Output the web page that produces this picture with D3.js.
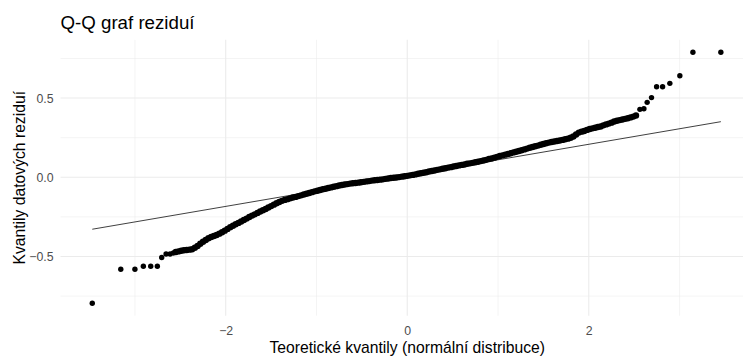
<!DOCTYPE html>
<html>
<head>
<meta charset="utf-8">
<script src="https://cdn.jsdelivr.net/npm/d3@7"></script>
<style>
  body { margin: 0; background: #fff; }
  svg { display: block; font-family: "Liberation Sans", Arial, sans-serif; }
</style>
</head>
<body>
<div id="chart"></div>
<script>
// theoretical quantile, sample quantile
const tailLow = [
  [-3.47, -0.795], [-3.156, -0.581], [-3.0, -0.581], [-2.907, -0.562],
  [-2.826, -0.562], [-2.753, -0.562], [-2.705, -0.507], [-2.657, -0.484],
  [-2.613, -0.484], [-2.577, -0.478]
];

const body = [
  [-2.55, -0.472], [-2.52, -0.468], [-2.49, -0.464], [-2.46, -0.461], [-2.43, -0.459],
  [-2.40, -0.457], [-2.37, -0.454], [-2.34, -0.445], [-2.31, -0.434], [-2.28, -0.420],
  [-2.25, -0.407], [-2.22, -0.396], [-2.19, -0.385], [-2.16, -0.377], [-2.13, -0.371],
  [-2.10, -0.364], [-2.07, -0.356], [-2.04, -0.347], [-2.01, -0.337], [-1.98, -0.326],
  [-1.95, -0.315], [-1.92, -0.306], [-1.89, -0.297], [-1.86, -0.288], [-1.83, -0.279],
  [-1.80, -0.270], [-1.77, -0.261], [-1.74, -0.251], [-1.71, -0.242], [-1.68, -0.234],
  [-1.65, -0.225], [-1.62, -0.216], [-1.59, -0.208], [-1.56, -0.200], [-1.53, -0.191],
  [-1.50, -0.182], [-1.47, -0.173], [-1.44, -0.164], [-1.41, -0.156], [-1.38, -0.149],
  [-1.35, -0.143], [-1.32, -0.138], [-1.29, -0.133], [-1.26, -0.128], [-1.23, -0.124],
  [-1.20, -0.119], [-1.17, -0.114], [-1.14, -0.109], [-1.11, -0.104], [-1.08, -0.099],
  [-1.05, -0.094], [-1.02, -0.089], [-0.99, -0.085], [-0.96, -0.080], [-0.93, -0.076],
  [-0.90, -0.072], [-0.87, -0.068], [-0.84, -0.064], [-0.81, -0.060], [-0.78, -0.056],
  [-0.75, -0.052], [-0.72, -0.049], [-0.69, -0.046], [-0.66, -0.043], [-0.63, -0.040],
  [-0.60, -0.038], [-0.57, -0.036], [-0.54, -0.034], [-0.51, -0.031], [-0.48, -0.029],
  [-0.45, -0.026], [-0.42, -0.024], [-0.39, -0.021], [-0.36, -0.019], [-0.33, -0.017],
  [-0.30, -0.015], [-0.27, -0.013], [-0.24, -0.010], [-0.21, -0.008], [-0.18, -0.005],
  [-0.15, -0.003], [-0.12, -0.001], [-0.09, 0.001], [-0.06, 0.004], [-0.03, 0.006],
  [0.00, 0.009], [0.03, 0.012], [0.06, 0.015], [0.09, 0.018], [0.12, 0.022],
  [0.15, 0.025], [0.18, 0.029], [0.21, 0.032], [0.24, 0.036], [0.27, 0.040],
  [0.30, 0.043], [0.33, 0.047], [0.36, 0.050], [0.39, 0.054], [0.42, 0.057],
  [0.45, 0.061], [0.48, 0.064], [0.51, 0.068], [0.54, 0.071], [0.57, 0.075],
  [0.60, 0.078], [0.63, 0.081], [0.66, 0.085], [0.69, 0.088], [0.72, 0.091],
  [0.75, 0.095], [0.78, 0.098], [0.81, 0.102], [0.84, 0.106], [0.87, 0.110],
  [0.90, 0.115], [0.93, 0.119], [0.96, 0.124], [0.99, 0.129], [1.02, 0.134],
  [1.05, 0.138], [1.08, 0.143], [1.11, 0.147], [1.14, 0.152], [1.17, 0.157],
  [1.20, 0.161], [1.23, 0.166], [1.26, 0.171], [1.29, 0.176], [1.32, 0.181],
  [1.35, 0.186], [1.38, 0.191], [1.41, 0.196], [1.44, 0.200], [1.47, 0.205],
  [1.50, 0.210], [1.53, 0.215], [1.56, 0.219], [1.59, 0.223], [1.62, 0.226],
  [1.65, 0.229], [1.68, 0.232], [1.71, 0.236], [1.74, 0.240], [1.77, 0.244],
  [1.80, 0.250], [1.83, 0.257], [1.86, 0.270], [1.89, 0.282], [1.92, 0.288],
  [1.95, 0.292], [1.98, 0.299], [2.01, 0.305], [2.04, 0.309], [2.07, 0.313],
  [2.10, 0.317], [2.13, 0.321], [2.16, 0.328], [2.19, 0.334], [2.22, 0.339],
  [2.25, 0.345], [2.28, 0.352], [2.31, 0.357], [2.34, 0.361], [2.37, 0.365],
  [2.40, 0.369], [2.43, 0.373], [2.46, 0.378], [2.49, 0.383], [2.52, 0.390]
];

const tailHigh = [
  [2.563, 0.429], [2.607, 0.433], [2.643, 0.473], [2.691, 0.503], [2.747, 0.572],
  [2.813, 0.572], [2.893, 0.593], [3.003, 0.641], [3.147, 0.789], [3.455, 0.789]
];

// reference line (through the quartiles), drawn over the data range
const qqLine = [[-3.47, -0.328], [3.455, 0.351]];

const xTicks = [-2, 0, 2];
const xMinor = [-3, -1, 1, 3];
const yTicks = [-0.5, 0, 0.5];
const yMinor = [-0.75, -0.25, 0.25, 0.75];

const title = "Q-Q graf reziduí";
const xTitle = "Teoretické kvantily (normální distribuce)";
const yTitle = "Kvantily datových reziduí";

const W = 743, H = 356;
const panel = { left: 60.5, right: 754, top: 39.8, bottom: 315.7 };
const FONT = "'Liberation Sans', Arial, sans-serif";

const svg = d3.select("#chart")
  .append("svg")
  .attr("width", W)
  .attr("height", H);

svg.append("rect").attr("width", W).attr("height", H).attr("fill", "#fff");

var x = d3.scaleLinear().domain([-3.82, 3.82]).range([panel.left, panel.right]);
var y = d3.scaleLinear().domain([-0.874, 0.868]).range([panel.bottom, panel.top]);

// grid
const grid = svg.append("g");
grid.append("g").selectAll("line").data(yMinor).join("line")
  .attr("x1", panel.left).attr("x2", panel.right)
  .attr("y1", d => y(d)).attr("y2", d => y(d))
  .attr("stroke", "#ebebeb").attr("stroke-width", 0.55);
grid.append("g").selectAll("line").data(xMinor).join("line")
  .attr("y1", panel.top).attr("y2", panel.bottom)
  .attr("x1", d => x(d)).attr("x2", d => x(d))
  .attr("stroke", "#ebebeb").attr("stroke-width", 0.55);
grid.append("g").selectAll("line").data(yTicks).join("line")
  .attr("x1", panel.left).attr("x2", panel.right)
  .attr("y1", d => y(d)).attr("y2", d => y(d))
  .attr("stroke", "#ebebeb").attr("stroke-width", 1.07);
grid.append("g").selectAll("line").data(xTicks).join("line")
  .attr("y1", panel.top).attr("y2", panel.bottom)
  .attr("x1", d => x(d)).attr("x2", d => x(d))
  .attr("stroke", "#ebebeb").attr("stroke-width", 1.07);

// axes (text only, like theme_minimal)
var xAxis = d3.axisBottom(x).tickValues(xTicks).tickSize(0).tickPadding(0)
  .tickFormat(d3.format("d"));
svg.append("g")
  .attr("transform", `translate(0, ${panel.bottom + 18.8})`)
  .call(xAxis)
  .call(g => g.select(".domain").remove())
  .selectAll("text")
    .attr("dy", 0)
    .attr("fill", "#4d4d4d")
    .style("font-size", "12.3px")
    .style("font-family", FONT);

var yAxis = d3.axisLeft(y).tickValues(yTicks).tickSize(0).tickPadding(7)
  .tickFormat(d3.format(".1f"));
svg.append("g")
  .attr("transform", `translate(${panel.left}, 0)`)
  .call(yAxis)
  .call(g => g.select(".domain").remove())
  .selectAll("text")
    .attr("dy", "0.36em")
    .attr("fill", "#4d4d4d")
    .style("font-size", "12.3px")
    .style("font-family", FONT);

// points: the dense middle overlaps into a thicker band
const dots = svg.append("g");
dots.append("g").selectAll("circle").data(body).join("circle")
  .attr("cx", d => x(d[0]))
  .attr("cy", d => y(d[1]))
  .attr("r", 3.2)
  .attr("fill", "#000");
dots.append("g").selectAll("circle").data(tailLow.concat(tailHigh)).join("circle")
  .attr("cx", d => x(d[0]))
  .attr("cy", d => y(d[1]))
  .attr("r", 2.7)
  .attr("fill", "#000");

// qq line
var line = d3.line().x(d => x(d[0])).y(d => y(d[1]));
svg.append("path")
  .attr("d", line(qqLine))
  .attr("fill", "none")
  .attr("stroke", "#000")
  .attr("stroke-width", 0.75);

// titles
svg.append("text")
  .attr("x", panel.left).attr("y", 28.5)
  .style("font-size", "18.7px")
  .attr("fill", "#000")
  .text(title);

svg.append("text")
  .attr("x", (panel.left + panel.right) / 2).attr("y", 352.5)
  .attr("text-anchor", "middle")
  .style("font-size", "15.7px")
  .attr("fill", "#000")
  .text(xTitle);

svg.append("text")
  .attr("transform", `translate(25, ${(panel.top + panel.bottom) / 2}) rotate(-90)`)
  .attr("text-anchor", "middle")
  .style("font-size", "15.7px")
  .attr("fill", "#000")
  .text(yTitle);
</script>
</body>
</html>
